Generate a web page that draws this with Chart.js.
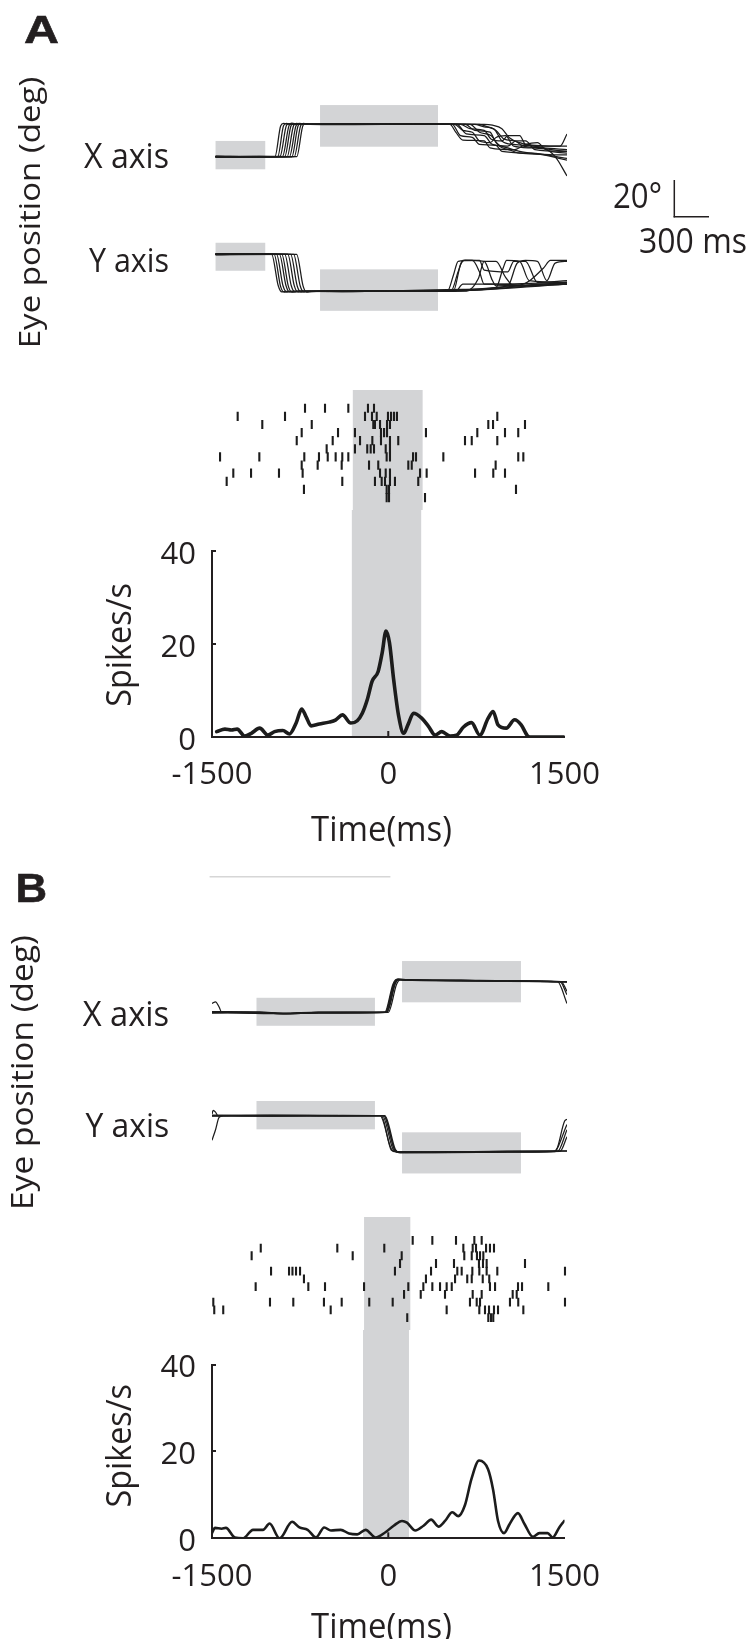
<!DOCTYPE html>
<html><head><meta charset="utf-8">
<script src="https://cdn.jsdelivr.net/npm/chart.js@4.4.0/dist/chart.umd.min.js"></script>
<style>
html,body{margin:0;padding:0;background:#fff;}
#page{position:relative;width:750px;height:1639px;overflow:hidden;background:#fff;}
canvas{position:absolute;}
svg{position:absolute;left:0;top:0;z-index:5;}
</style></head>
<body><div id="page"></div>
<script>
// ---------------- DATA ----------------
const TIME_TICKS = [-1500, 0, 1500];
const RATE_TICKS = [0, 20, 40];

// Panel A : eye position traces [time ms, deg]
const eyeA_X_boxes = [[-1470, -1050, 9.0, -7.2], [-587, 410, 29.5, 5.7]];
const eyeA_Y_boxes = [[-1470, -1050, 6.6, -9.4], [-587, 410, -8.6, -32.3]];
const eyeA_X = [
  [[-1470,0.2],[-1100,0],[-968,0],[-920,17.5],[-895,19],[-850,18.6],[-300,18.4],[200,18.6],[511,18.5],[560,14],[620,9.5],[800,9],[850,5],[1000,4],[1100,2],[1500,1]],
  [[-1470,-0.2],[-1100,0.1],[-945,0],[-895,17.8],[-870,19.1],[-830,18.5],[-300,18.6],[200,18.4],[530,18.5],[600,12],[700,11],[760,7],[900,6.5],[950,3],[1200,2],[1500,-1]],
  [[-1470,0.1],[-1100,-0.2],[-925,0.2],[-870,18],[-845,18.9],[-800,18.4],[-300,18.5],[200,18.7],[550,18.5],[620,15],[700,14],[760,9],[850,8],[900,11],[980,12],[1050,6],[1200,5],[1500,3]],
  [[-1470,-0.1],[-1100,0.2],[-905,0],[-850,17.6],[-825,19.2],[-780,18.5],[-300,18.7],[200,18.5],[570,18.5],[650,13],[800,12],[870,7],[1000,6],[1070,9],[1150,9],[1230,4],[1500,3]],
  [[-1470,0.3],[-1100,0],[-885,0.1],[-830,18.1],[-805,18.9],[-760,18.6],[-300,18.3],[200,18.6],[600,18.5],[680,16],[800,15],[860,10],[950,9],[1000,12],[1100,12],[1150,7],[1440,6],[1500,13]],
  [[-1470,-0.3],[-1100,-0.1],[-865,0],[-810,17.9],[-785,19],[-740,18.5],[-300,18.5],[200,18.4],[640,18.5],[720,15],[850,14],[900,8],[1000,5],[1100,3],[1300,1],[1500,-2]],
  [[-1470,0],[-1100,0.2],[-845,0.1],[-790,17.7],[-765,19.1],[-720,18.6],[-300,18.6],[200,18.7],[680,18.5],[760,14],[860,12],[930,6],[1050,4],[1150,7],[1250,8],[1320,4],[1500,2]],
  [[-1470,0.1],[-1100,0.1],[-825,-0.1],[-770,18],[-745,18.8],[-700,18.4],[-300,18.4],[200,18.5],[720,18.5],[800,17],[880,16],[950,9],[1050,7],[1300,5],[1400,0],[1500,-11]],
  [[-1470,-0.1],[-1100,0],[-805,0],[-750,17.8],[-725,19],[-690,18.5],[-300,18.7],[200,18.6],[760,18.5],[830,17],[900,15],[970,10],[1060,9],[1130,6],[1300,5],[1500,4]],
  [[-1470,0.2],[-1100,-0.1],[-784,0],[-730,18],[-705,18.9],[-670,18.5],[-300,18.5],[200,18.5],[800,18.5],[870,18],[950,16],[1010,11],[1100,8],[1250,6],[1500,6]]
];
const eyeA_Y = [
  [[-1470,0.2],[-1100,0],[-996,0],[-940,-18],[-910,-21.5],[-880,-21.2],[-400,-21.2],[0,-20.8],[480,-21],[1500,-17]],
  [[-1470,-0.2],[-1100,0.1],[-975,0],[-920,-18.5],[-890,-21.6],[-850,-21.3],[-400,-21],[0,-21],[500,-21],[700,-20],[1500,-16]],
  [[-1470,0.1],[-955,0.1],[-900,-18],[-870,-21.4],[-830,-21.2],[-400,-21.1],[0,-20.9],[490,-21],[540,-12],[580,-4],[700,-3.5],[760,-10],[800,-17],[1500,-16]],
  [[-1470,-0.1],[-930,0],[-875,-17.8],[-845,-21.5],[-800,-21.2],[-400,-21.3],[0,-21],[520,-21],[580,-10],[620,-3.5],[800,-4],[870,-15],[900,-18],[1500,-16.5]],
  [[-1470,0.3],[-910,0],[-855,-18.2],[-825,-21.6],[-780,-21.3],[-400,-21.2],[0,-20.9],[540,-21],[600,-6],[640,-3.3],[760,-3.5],[800,-9],[1000,-10],[1050,-4],[1150,-4],[1250,-16],[1500,-15]],
  [[-1470,-0.3],[-885,0],[-830,-18],[-800,-21.4],[-760,-21.1],[-400,-21.2],[0,-21],[600,-20.5],[900,-19],[960,-8],[990,-3.5],[1100,-4],[1180,-15],[1500,-16]],
  [[-1470,0],[-860,0.1],[-805,-17.9],[-775,-21.5],[-730,-21.2],[-400,-21],[0,-20.8],[620,-20],[1000,-18],[1080,-5],[1150,-3.5],[1250,-4],[1330,-15],[1400,-5],[1500,-4]],
  [[-1470,0.1],[-835,-0.1],[-780,-18.1],[-750,-21.4],[-710,-21.2],[-400,-21.3],[0,-21.1],[560,-21],[620,-17],[900,-17],[1100,-17.5],[1300,-8],[1360,-3.5],[1500,-3.5]],
  [[-1470,-0.1],[-810,0],[-755,-18],[-725,-21.5],[-690,-21.2],[-400,-21],[0,-20.9],[700,-20.5],[1200,-18],[1500,-17]],
  [[-1470,0.2],[-785,0],[-730,-18.2],[-700,-21.6],[-660,-21.3],[-400,-21.1],[0,-21],[650,-21],[750,-14],[800,-4],[900,-4],[980,-13],[1050,-18],[1500,-17]]
];

// Panel A : spike raster (ms, one array per trial)
const rasterA = [
  [-714,-545,-348,-182,-131],
  [-1283,-883,-207,-148,-108,-13,13,38,63,911],
  [-1075,-657,-137,-123,-80,-21,4,835,875,1145],
  [-742,-435,-292,-72,-46,-21,308,742,976,1088],
  [-784,-480,-249,-145,-72,4,74,638,695,911],
  [-531,-292,-188,-159,-131,-32,4],
  [-1432,-1100,-720,-596,-522,-455,-399,-348,-24,4,199,224,455,1088,1131],
  [-742,-607,-404,-173,-95,159,188,897],
  [-1320,-1170,-934,-734,-80,-32,4,258,314,723,877,976],
  [-1376,-399,-123,-66,-38,4,46,243],
  [-723,-24,-4,1069],
  [-24,-4,300]
];
const taskBoxA = [-310, 280];

// Panel A : firing rate
const psthA_t = [-1460,-1390,-1334,-1286,-1221,-1165,-1094,-1024,-968,-897,-841,-784,-737,-700,-657,-587,-503,-446,-390,-319,-264,-221,-179,-137,-86,-52,-19,10,46,89,131,167,215,286,342,399,455,526,582,638,708,779,849,892,934,1004,1075,1131,1187,1215,1500];
const psthA_rate = [1.15,1.7,1.5,1.7,0.2,0.8,1.9,0.4,1.15,1.4,0.65,3.0,6.0,4.4,2.4,2.8,3.2,3.7,4.75,3.0,3.5,5.1,8.0,12.0,14.1,18.1,22.8,20.3,12.3,4.4,0.8,2.6,5.1,4.0,2.3,0.4,1.15,0.2,0.4,2.1,3.1,0.4,4.0,5.5,2.6,1.9,3.7,2.6,0.2,0,0];

// Panel B : eye position traces
const eyeB_X_boxes = [[-1124, -123, 8.3, -7.7], [106, 1111, 29.3, 5.7]];
const eyeB_Y_boxes = [[-1124, -123, 8.4, -7.8], [106, 1111, -9.5, -33]];
const eyeB_X = [
  [[-1500,0.2],[-1100,-0.2],[-900,-0.8],[-600,-0.3],[-30,0],[40,16],[70,18.9],[150,18.6],[600,18.2],[1000,17.9],[1400,17.6],[1500,17.5]],
  [[-1500,-0.2],[-1100,-0.4],[-900,-0.6],[-600,0],[-20,0.1],[50,16.5],[80,18.7],[150,18.4],[600,18],[1000,18],[1420,17.5],[1500,5]],
  [[-1500,5],[-1470,6],[-1440,3],[-1420,0.3],[-900,-0.7],[-600,-0.2],[-10,0],[60,16],[90,18.5],[150,18.3],[600,18.3],[1000,17.8],[1440,17.5],[1500,10]],
  [[-1500,0.4],[-1100,0],[-900,-0.9],[-600,-0.4],[-40,0],[30,16.2],[60,18.8],[150,18.5],[600,18.1],[1000,17.7],[1500,17.4]],
  [[-1500,0],[-1100,-0.3],[-900,-0.5],[-600,0.1],[-25,0],[45,16.4],[75,19],[150,18.7],[600,18.4],[1000,18.1],[1450,17.6],[1500,12]],
  [[-1500,-0.4],[-1100,0.2],[-900,-0.7],[-600,-0.1],[-35,0],[35,16],[65,18.6],[150,18.5],[600,18],[1000,17.8],[1500,17.3]]
];
const eyeB_Y = [
  [[-1500,0],[-1000,0.3],[-400,0],[-45,0],[40,-19],[80,-21],[500,-20.8],[1000,-20.6],[1390,-20.4],[1500,-5]],
  [[-1500,-14],[-1470,-8],[-1440,-1],[-1400,0],[-1000,0.2],[-400,0.1],[-80,0],[20,-19.5],[60,-20.6],[500,-20.9],[1000,-20.5],[1420,-20.4],[1500,-8]],
  [[-1500,1],[-1490,3],[-1470,2],[-1450,0],[-1000,-0.2],[-400,0.2],[-60,0],[30,-19.2],[70,-20.8],[500,-20.6],[1000,-20.3],[1500,-20.2]],
  [[-1500,0.3],[-1000,0],[-400,-0.2],[-40,0],[50,-19.4],[90,-21.2],[500,-21],[1000,-20.7],[1440,-20.4],[1500,-12]],
  [[-1500,-0.3],[-1000,0.1],[-400,0],[-70,0],[15,-19.6],[55,-20.7],[500,-20.7],[1000,-20.4],[1500,-20.1]],
  [[-1500,0.1],[-1000,-0.2],[-400,0.1],[-50,0],[45,-19.6],[85,-21],[500,-21.1],[1000,-20.8],[1400,-20.5],[1480,-3],[1500,-2]]
];

// Panel B : spike raster
const rasterB = [
  [196,362,562,717,779],
  [-1088,-441,-44,624,703,731,816,849,883],
  [-1165,-311,103,632,695,739,765,793],
  [89,393,545,756,790,821,1145],
  [-1001,-849,-820,-790,-756,46,351,573,610,700,759,821,911,1483],
  [-723,308,554,657,695,788,843],
  [-1131,-686,-545,-215,159,286,362,427,483,526,849,892,1086,1120,1342],
  [123,264,469,703,779,1041,1075],
  [-1489,-1010,-813,-554,-404,-171,27,680,737,765,1018,1088,1483],
  [-1481,-1405,-497,483,759,807,841,883,917,1131],
  [150,835,858,877]
];
const taskBoxB = [-215, 176];

// Panel B : firing rate
const psthB_t = [-1500,-1475,-1418,-1382,-1306,-1235,-1151,-1066,-1010,-925,-818,-756,-686,-615,-545,-488,-404,-334,-264,-193,-108,-24,46,117,159,230,300,365,427,483,545,596,652,708,773,849,892,934,985,1033,1103,1159,1230,1286,1356,1399,1455,1497];
const psthB_rate = [1.2,2.4,2.2,2.4,0.2,0,1.95,1.95,3.4,0,3.8,2.5,1.95,0.2,2.5,1.8,1.95,1.1,0.9,1.95,0.2,1.4,2.9,4.0,3.6,1.8,2.9,4.3,2.7,4.0,6.0,5.1,7.6,13.7,17.9,15.9,11.2,4.0,1.2,3.3,5.8,3.3,0.35,1.2,1.2,0.2,2.5,4.0];

// ---------------- RENDERING ----------------
const GRAY = '#d3d4d6', INK = '#1c1c1c', TXT = '#231f20';
const page = document.getElementById('page');
const common = {
  responsive: false, animation: false, devicePixelRatio: 1, events: [],
  layout: { padding: 0 },
  plugins: { legend: { display: false }, tooltip: { enabled: false } }
};
// horizontal layout shared by raster and firing-rate canvases
const PLOT_LEFT = 130, PLOT_W = 490, AXIS_W = 82, PAD_R = 53;

function addCanvas(left, top, w, h) {
  const c = document.createElement('canvas');
  c.width = w; c.height = h;
  Object.assign(c.style, { left: left + 'px', top: top + 'px', width: w + 'px', height: h + 'px' });
  page.appendChild(c);
  return c;
}

function boxPlugin(list, toAxis) {
  return {
    id: 'boxes',
    beforeDraw(chart) {
      const { ctx, scales: { x, y }, chartArea } = chart;
      ctx.save(); ctx.fillStyle = GRAY;
      list.forEach(b => {
        const x1 = x.getPixelForValue(b[0]), x2 = x.getPixelForValue(b[1]);
        let y1, y2;
        if (b.length > 2) { y1 = y.getPixelForValue(b[2]); y2 = y.getPixelForValue(b[3]); }
        else { y1 = 0; y2 = toAxis ? chartArea.bottom : chart.height; }
        ctx.fillRect(Math.min(x1, x2), Math.min(y1, y2), Math.abs(x2 - x1), Math.abs(y2 - y1));
      });
      ctx.restore();
    }
  };
}

function eyeChart(left, top, w, h, ymin, ymax, traces, boxes) {
  new Chart(addCanvas(left, top, w, h), {
    type: 'line',
    data: { datasets: traces.map(tr => ({
      data: tr.map(p => ({ x: p[0], y: p[1] })),
      borderColor: INK, borderWidth: 1.25, pointRadius: 0,
      cubicInterpolationMode: 'monotone', fill: false
    })) },
    options: Object.assign({}, common, { scales: {
      x: { type: 'linear', min: -1500, max: 1500, display: false },
      y: { type: 'linear', min: ymin, max: ymax, display: false }
    } }),
    plugins: [boxPlugin(boxes)]
  });
}

function rasterChart(top, h, ymin, ymax, trials, box, tickR) {
  const pts = [];
  trials.forEach((row, i) => row.forEach(t => pts.push({ x: t, y: i })));
  new Chart(addCanvas(PLOT_LEFT, top, PLOT_W, h), {
    type: 'scatter',
    data: { datasets: [{
      data: pts, showLine: false,
      pointStyle: 'line', pointRotation: 90, pointRadius: tickR,
      pointBorderWidth: 2.1, pointBorderColor: INK, pointBackgroundColor: INK
    }] },
    options: Object.assign({}, common, {
      layout: { padding: { left: AXIS_W, right: PAD_R, top: 0, bottom: 0 } },
      scales: {
        x: { type: 'linear', min: -1500, max: 1500, display: false },
        y: { type: 'linear', min: ymin, max: ymax, reverse: true, display: false }
      }
    }),
    plugins: [boxPlugin([box])]
  });
}

const inTicks = {
  id: 'inTicks',
  afterDraw(chart) {
    const { ctx, scales: { x, y }, chartArea } = chart;
    ctx.save(); ctx.strokeStyle = TXT; ctx.lineWidth = 2;
    [20, 40].forEach(v => {
      const py = Math.round(y.getPixelForValue(v));
      ctx.beginPath(); ctx.moveTo(chartArea.left, py); ctx.lineTo(chartArea.left + 4, py); ctx.stroke();
    });
    const px = x.getPixelForValue(0);
    ctx.beginPath(); ctx.moveTo(px, chartArea.bottom); ctx.lineTo(px, chartArea.bottom - 6); ctx.stroke();
    ctx.restore();
  }
};

function psthChart(top, h, padTop, xAxisH, times, rates, box, lw) {
  const tickFont = { family: 'Open Sans', size: 31 };
  new Chart(addCanvas(PLOT_LEFT, top, PLOT_W, h), {
    type: 'line',
    data: { datasets: [{
      data: times.map((t, i) => ({ x: t, y: rates[i] })),
      borderColor: INK, borderWidth: lw, pointRadius: 0,
      cubicInterpolationMode: 'monotone', fill: false, borderJoinStyle: 'round', borderCapStyle: 'round'
    }] },
    options: Object.assign({}, common, {
      layout: { padding: { left: 0, top: padTop, right: PAD_R, bottom: 0 } },
      scales: {
        x: {
          type: 'linear', min: -1500, max: 1500,
          afterBuildTicks: s => { s.ticks = TIME_TICKS.map(v => ({ value: v })); },
          afterFit: s => { s.height = xAxisH; },
          grid: { display: false, drawTicks: false },
          border: { display: true, color: TXT, width: 2 },
          ticks: { color: TXT, font: tickFont, padding: 20, maxRotation: 0, minRotation: 0, autoSkip: false, callback: v => String(v) }
        },
        y: {
          type: 'linear', min: 0, max: 40,
          afterBuildTicks: s => { s.ticks = RATE_TICKS.map(v => ({ value: v })); },
          afterFit: s => { s.width = AXIS_W; },
          grid: { display: false, drawTicks: false },
          border: { display: true, color: TXT, width: 2 },
          ticks: { color: TXT, font: tickFont, padding: 16, labelOffset: 4, callback: v => String(v) }
        }
      }
    }),
    plugins: [boxPlugin([box], true), inTicks]
  });
}

// Panel A
eyeChart(212, 97, 355, 88, -16.17, 34.11, eyeA_X, eyeA_X_boxes);
eyeChart(212, 230, 355, 88, -36.4, 13.89, eyeA_Y, eyeA_Y_boxes);
rasterChart(390, 120, -1.422, 11.707, rasterA, taskBoxA, 4.6);
psthChart(510, 290, 41, 63, psthA_t, psthA_rate, taskBoxA, 3.6);

// Panel B
eyeChart(212, 953, 355, 88, -16.4, 33.89, eyeB_X, eyeB_X_boxes);
eyeChart(212, 1091, 355, 88, -36.17, 14.11, eyeB_Y, eyeB_Y_boxes);
rasterChart(1217, 113, -2.176, 10.768, rasterB, taskBoxB, 4.4);
psthChart(1330, 309, 24, 100.7, psthB_t, psthB_rate, taskBoxB, 2.6);

// ---------------- TEXT & ANNOTATIONS ----------------
const NS = 'http://www.w3.org/2000/svg';
const svg = document.createElementNS(NS, 'svg');
svg.setAttribute('width', 750); svg.setAttribute('height', 1639);
page.appendChild(svg);

const LABELS = [
  { t: 'A', x: 24, y: 43.3, s: 39.5, len: 35, bold: true },
  { t: 'B', x: 15.4, y: 901.7, s: 41.5, len: 31.6, bold: true },
  { t: 'Eye position (deg)', x: 40, y: 348.3, s: 30, len: 271.6, rot: true },
  { t: 'Eye position (deg)', x: 33.3, y: 1210, s: 30.4, len: 275, rot: true },
  { t: 'X axis', x: 84, y: 168, s: 34, len: 85 },
  { t: 'Y axis', x: 89, y: 272, s: 33.5, len: 80 },
  { t: 'X axis', x: 82.7, y: 1026, s: 34, len: 86.5 },
  { t: 'Y axis', x: 85.4, y: 1137.3, s: 33.5, len: 83.8 },
  { t: '20°', x: 613, y: 208, s: 35, len: 49 },
  { t: '300 ms', x: 639, y: 252.7, s: 35, len: 108 },
  { t: 'Spikes/s', x: 131, y: 706.7, s: 34, len: 123.7, rot: true },
  { t: 'Spikes/s', x: 131, y: 1507.5, s: 34, len: 123.5, rot: true },
  { t: 'Time(ms)', x: 311, y: 841, s: 34, len: 141 },
  { t: 'Time(ms)', x: 311, y: 1637.6, s: 34, len: 141 }
];
LABELS.forEach(L => {
  const el = document.createElementNS(NS, 'text');
  el.textContent = L.t;
  el.setAttribute('font-family', L.bold ? "'Liberation Sans', Arial, sans-serif" : "'Open Sans', sans-serif");
  el.setAttribute('font-weight', L.bold ? '700' : '400');
  el.setAttribute('font-size', L.s);
  el.setAttribute('fill', TXT);
  if (L.bold) { el.setAttribute('stroke', TXT); el.setAttribute('stroke-width', '0.6'); }
  el.setAttribute('textLength', L.len);
  el.setAttribute('lengthAdjust', 'spacingAndGlyphs');
  if (L.rot) {
    el.setAttribute('x', 0); el.setAttribute('y', 0);
    el.setAttribute('transform', `translate(${L.x},${L.y}) rotate(-90)`);
  } else {
    el.setAttribute('x', L.x); el.setAttribute('y', L.y);
  }
  svg.appendChild(el);
});

function line(x1, y1, x2, y2, color, w) {
  const l = document.createElementNS(NS, 'line');
  l.setAttribute('x1', x1); l.setAttribute('y1', y1); l.setAttribute('x2', x2); l.setAttribute('y2', y2);
  l.setAttribute('stroke', color); l.setAttribute('stroke-width', w);
  svg.appendChild(l);
}
// scale bar (20 deg / 300 ms)
line(674.3, 180, 674.3, 217.4, TXT, 1.5);
line(673.6, 216.7, 709, 216.7, TXT, 1.5);
// faint line at top of panel B
line(209.6, 876.7, 390.4, 876.7, '#d6d6d6', 1.5);
</script>
</body></html>
